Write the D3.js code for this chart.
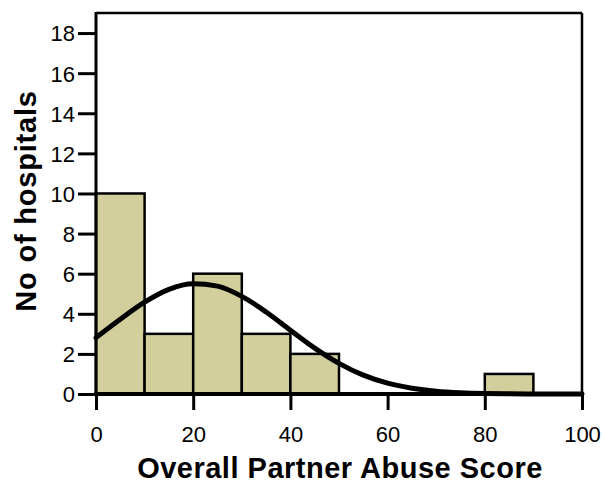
<!DOCTYPE html>
<html><head><meta charset="utf-8">
<script src="https://cdn.jsdelivr.net/npm/d3@7"></script>
<style>body{margin:0;background:#fff}svg{display:block}text{font-family:"Liberation Sans",Arial,sans-serif}</style>
</head><body><svg id="c" width="604" height="483"></svg>
<script>
const binStarts = [0, 10, 20, 30, 40, 80];
const binCounts = [10, 3, 6, 3, 2, 1];
const binWidth = 10;
const curveX = [0,5,10,15,20,25,30,35,40,45,50,55,60,65,70,75,80,85,90,95,100];
const curveY = [2.81,3.73,4.58,5.22,5.50,5.38,4.87,4.09,3.18,2.29,1.53,0.94,0.54,0.29,0.14,0.064,0.027,0.011,0.004,0.001,0.0];
const xTicks = [0,20,40,60,80,100];
const yTicks = [0,2,4,6,8,10,12,14,16,18];

const svg = d3.select("#c");
const L=96, R=582, T=13, B=394;
const x = d3.scaleLinear().domain([0,100]).range([L,R]);
const y = d3.scaleLinear().domain([0,19]).range([B,T]);

// bars
svg.append("g").selectAll("rect").data(binStarts.map((s,i)=>({s,c:binCounts[i]}))).join("rect")
  .attr("x",d=>x(d.s)).attr("y",d=>y(d.c))
  .attr("width",d=>x(d.s+binWidth)-x(d.s)).attr("height",d=>y(0)-y(d.c))
  .attr("fill","#d3cf9c").attr("stroke","#000").attr("stroke-width",2.5);

// curve
svg.append("path").datum(curveX.map((v,i)=>[v,curveY[i]]))
  .attr("d",d3.line().x(d=>x(d[0])).y(d=>y(d[1])).curve(d3.curveMonotoneX))
  .attr("fill","none").attr("stroke","#000").attr("stroke-width",5).attr("stroke-linecap","round");

// frame top/right
svg.append("line").attr("x1",L).attr("x2",R).attr("y1",T).attr("y2",T).attr("stroke","#000").attr("stroke-width",2.5);
svg.append("line").attr("x1",R).attr("x2",R).attr("y1",T).attr("y2",B).attr("stroke","#000").attr("stroke-width",2.5);

// axes
const yAxis = svg.append("g").attr("transform",`translate(${L},0)`)
  .call(d3.axisLeft(y).tickValues(yTicks).tickSize(18));
const xAxis = svg.append("g").attr("transform",`translate(0,${B})`)
  .call(d3.axisBottom(x).tickValues(xTicks).tickSize(16));
[yAxis,xAxis].forEach(g=>{
  g.select(".domain").remove();
  g.selectAll(".tick line").attr("stroke-width",3);
  g.selectAll("text").attr("font-size",22).attr("fill","#000").attr("font-family","Liberation Sans, Arial, sans-serif");
});
yAxis.selectAll(".tick text").attr("x",-21).attr("dy","0.36em");
xAxis.selectAll(".tick text").attr("y",48).attr("dy",0);
svg.append("line").attr("x1",L).attr("x2",L).attr("y1",T-1).attr("y2",B+2).attr("stroke","#000").attr("stroke-width",3);
svg.append("line").attr("x1",L-1.5).attr("x2",R+1).attr("y1",B).attr("y2",B).attr("stroke","#000").attr("stroke-width",4);

// titles
svg.append("text").attr("x",340).attr("y",478).attr("text-anchor","middle")
  .attr("font-size",29).attr("font-weight","bold").attr("letter-spacing",0.5).text("Overall Partner Abuse Score");
svg.append("text").attr("transform","translate(36,201) rotate(-90)").attr("text-anchor","middle")
  .attr("font-size",29).attr("font-weight","bold").attr("letter-spacing",0.8).text("No of hospitals");
</script></body></html>
